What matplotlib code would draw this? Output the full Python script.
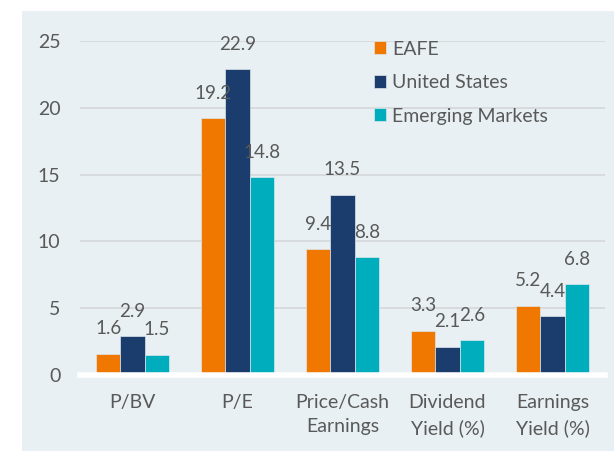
import matplotlib.pyplot as plt
from matplotlib.patches import Rectangle
import numpy as np

categories = ['P/BV', 'P/E', 'Price/Cash\nEarnings', 'Dividend\nYield (%)', 'Earnings\nYield (%)']
series_names = ['EAFE', 'United States', 'Emerging Markets']
eafe = [1.6, 19.2, 9.4, 3.3, 5.2]
usa = [2.9, 22.9, 13.5, 2.1, 4.4]
emerging = [1.5, 14.8, 8.8, 2.6, 6.8]
yticks = [0, 5, 10, 15, 20, 25]

colors = ['#F07800', '#1A3D6D', '#00ADBD']
bg = '#E8F0F3'
txt = '#595959'

plt.rcParams['font.family'] = ['Lato', 'DejaVu Sans']

fig = plt.figure(figsize=(6.14, 4.51), dpi=100, facecolor='white')
fig.add_artist(Rectangle((22 / 614, 0), 1 - 22 / 614, 1 - 11 / 451,
                         transform=fig.transFigure, facecolor=bg,
                         edgecolor='none', zorder=-10))
ax = fig.add_axes([80 / 614, 1 - 375 / 451, 525 / 614, 334 / 451])
ax.set_facecolor('none')

x = np.arange(len(categories))
w = 0.231
for i, (vals, name) in enumerate(zip([eafe, usa, emerging], series_names)):
    pos = x + (i - 1) * w
    bars = ax.bar(pos, vals, w, color=colors[i], label=name,
                  edgecolor='#DCE6EC', linewidth=0.5, zorder=3)
    for b, v in zip(bars, vals):
        ax.annotate(f'{v:.1f}', (b.get_x() + b.get_width() / 2, v),
                    xytext=(0, 18), textcoords='offset points',
                    ha='center', va='center', fontsize=13.5, color=txt, zorder=4)

ax.set_xlim(-0.5, len(categories) - 0.5)
ax.set_ylim(0, 25)
ax.set_yticks(yticks)
ax.set_xticks(x)
ax.set_xticklabels(categories, linespacing=1.5)
ax.tick_params(axis='both', length=0, labelsize=14, labelcolor=txt)
ax.tick_params(axis='y', pad=14)
ax.tick_params(axis='x', pad=14)
ax.grid(axis='y', color='#D2D5D8', linewidth=1.1, zorder=1)
for s in ['top', 'right', 'left']:
    ax.spines[s].set_visible(False)
ax.spines['bottom'].set_color('white')
ax.spines['bottom'].set_linewidth(4)
ax.spines['bottom'].set_zorder(5)

fig.legend(loc='upper left', bbox_to_anchor=(364 / 614, 1 - 31 / 451),
           frameon=False, fontsize=14, labelcolor=txt, borderpad=0,
           handlelength=0.65, handleheight=0.65, handletextpad=0.3,
           labelspacing=0.85)

fig.savefig('out.png', dpi=100, facecolor='white')
